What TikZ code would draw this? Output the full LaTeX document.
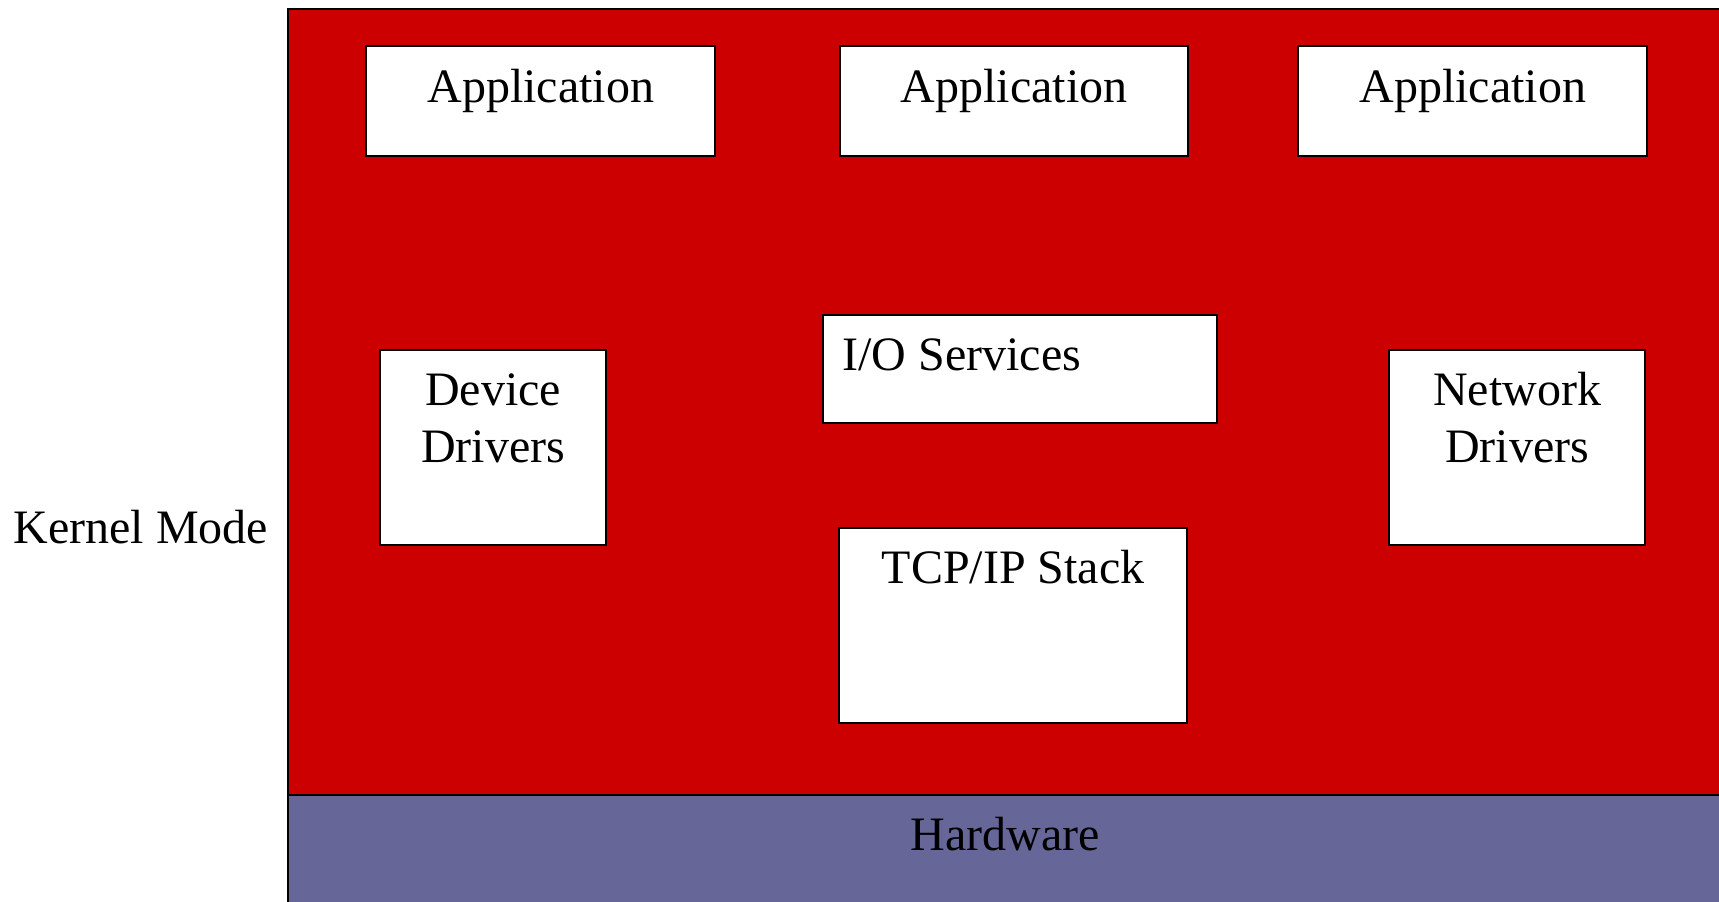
\documentclass[tikz,border=0pt]{standalone}
\usepackage{fontspec}
\setmainfont{Liberation Serif}
\usetikzlibrary{calc, positioning}
\definecolor{kernelred}{RGB}{204, 0, 0}
\definecolor{hwpurple}{RGB}{102, 102, 153}

\tikzset{
    modbox/.style={draw=black, fill=white, line width=1.2pt, anchor=north west, inner sep=0pt},
    lbl/.style={font=\fontsize{24}{28.5}\selectfont, inner sep=0pt, align=center}
}

\begin{document}
\begin{tikzpicture}[x=0.5pt, y=-0.5pt]
    % Canvas - 1719 x 901 px
    \useasboundingbox (0,0) rectangle (1719,901);
    \fill[white] (0,0) rectangle (1719,901);

    % Kernel area and hardware layer
    \filldraw[fill=kernelred, draw=black, line width=1.2pt]
        (288,9) rectangle (1730,795);
    \filldraw[fill=hwpurple, draw=black, line width=1.2pt]
        (288,795) rectangle (1730,910);

    % Applications
    \node[modbox, minimum width=174.5pt, minimum height=55pt] (app1) at (365,45) {};
    \node[modbox, minimum width=174pt, minimum height=55pt] (app2) at (839,45) {};
    \node[modbox, minimum width=174.5pt, minimum height=55pt] (app3) at (1297,45) {};
    \node[lbl, anchor=base] (app1txt) at ($(app1.north)+(0,57)$) {Application};
    \node[lbl, anchor=base] (app2txt) at ($(app2.north)+(0,57)$) {Application};
    \node[lbl, anchor=base] (app3txt) at ($(app3.north)+(0,57)$) {Application};

    % Kernel modules
    \node[modbox, minimum width=113pt, minimum height=97.5pt] (dev) at (379,349) {};
    \node[modbox, minimum width=197pt, minimum height=54pt] (io) at (822,314) {};
    \node[modbox, minimum width=128pt, minimum height=97.5pt] (net) at (1388,349) {};
    \node[modbox, minimum width=174pt, minimum height=97.5pt] (tcp) at (838,527) {};
    \node[lbl, anchor=base] (devtxt) at ($(dev.north)+(0,113)$) {Device\\Drivers};
    \node[lbl, anchor=base west] (iotxt) at ($(io.north west)+(20,56)$) {I/O Services};
    \node[lbl, anchor=base] (nettxt) at ($(net.north)+(0,113)$) {Network\\Drivers};
    \node[lbl, anchor=base] (tcptxt) at ($(tcp.north)+(0,56)$) {TCP/IP Stack};

    % Side and bottom labels
    \node[lbl, anchor=base west] (kernel) at (13,543) {Kernel Mode};
    \node[lbl, anchor=base] (hw) at (1005,850) {Hardware};
\end{tikzpicture}
\end{document}
